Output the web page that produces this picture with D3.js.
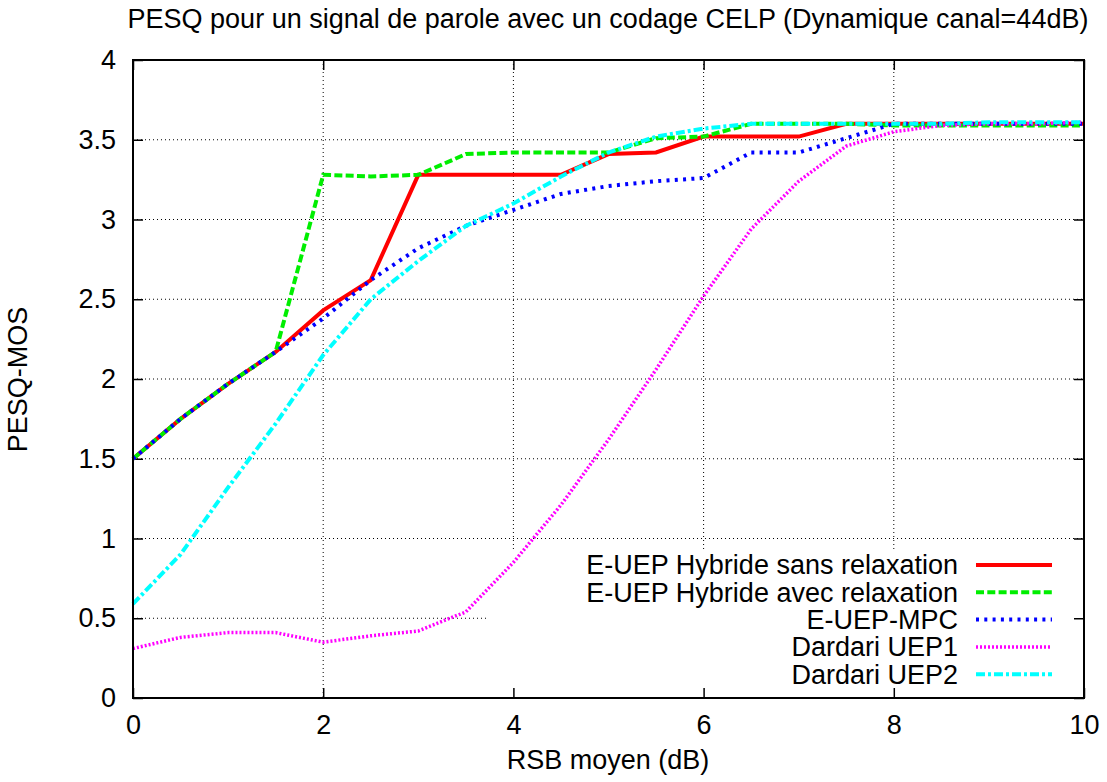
<!DOCTYPE html>
<html>
<head>
<meta charset="utf-8">
<script src="https://cdn.jsdelivr.net/npm/d3@7"></script>
<style>
  body { margin: 0; background: #fff; }
  text { font-family: "Liberation Sans", Arial, sans-serif; }
</style>
</head>
<body>
<svg id="chart" width="1107" height="782"></svg>
<script>
// data
const xs = [0, 0.5, 1, 1.5, 2, 2.5, 3, 3.5, 4, 4.5, 5, 5.5, 6, 6.5, 7, 7.5, 8, 8.5, 9, 9.5, 10];

const sansRelax = [1.5, 1.75, 1.97, 2.17, 2.43, 2.62, 3.28, 3.28, 3.28, 3.28, 3.41, 3.42, 3.52, 3.52, 3.52, 3.6, 3.6, 3.6, 3.6, 3.6, 3.6];
const avecRelax = [1.5, 1.75, 1.97, 2.17, 3.28, 3.27, 3.28, 3.41, 3.42, 3.42, 3.42, 3.51, 3.52, 3.6, 3.6, 3.6, 3.59, 3.59, 3.59, 3.59, 3.59];
const mpc = [1.5, 1.75, 1.97, 2.17, 2.38, 2.62, 2.82, 2.96, 3.06, 3.16, 3.21, 3.24, 3.26, 3.42, 3.42, 3.51, 3.6, 3.6, 3.6, 3.6, 3.6];
const uep1 = [0.31, 0.38, 0.41, 0.41, 0.35, 0.39, 0.42, 0.54, 0.85, 1.21, 1.62, 2.06, 2.52, 2.94, 3.24, 3.46, 3.55, 3.59, 3.6, 3.6, 3.61];
const uep2 = [0.59, 0.9, 1.32, 1.72, 2.15, 2.5, 2.74, 2.96, 3.1, 3.27, 3.42, 3.52, 3.57, 3.6, 3.6, 3.6, 3.6, 3.6, 3.61, 3.61, 3.61];

const seriesNames = ["E-UEP Hybride sans relaxation", "E-UEP Hybride avec relaxation", "E-UEP-MPC", "Dardari UEP1", "Dardari UEP2"];
const seriesColors = ["#ff0000", "#00ee00", "#0000ff", "#ff00ff", "#00ffff"];
const seriesDash = [null, "8,3.3", "3,5.3", "2,2", "9,3,3,3"];

const xTicks = [0, 2, 4, 6, 8, 10];
const yTicks = [0, 0.5, 1, 1.5, 2, 2.5, 3, 3.5, 4];

const titleText = "PESQ pour un signal de parole avec un codage CELP (Dynamique canal=44dB)";
const xLabel = "RSB moyen (dB)";
const yLabel = "PESQ-MOS";

var allSeries = [sansRelax, avecRelax, mpc, uep1, uep2];

const svg = d3.select("#chart");
const fs = 27;

// plot box
const pLeft = 133, pRight = 1084, pTop = 60, pBottom = 698;

const x = d3.scaleLinear().domain([0, 10]).range([pLeft, pRight]);
const y = d3.scaleLinear().domain([0, 4]).range([pBottom, pTop]);

// grid
const grid = svg.append("g").attr("class", "grid");
grid.selectAll("line.gx")
    .data(xTicks.slice(1, -1))
    .enter().append("line")
    .attr("x1", d => x(d)).attr("x2", d => x(d))
    .attr("y1", pTop).attr("y2", pBottom)
    .attr("stroke", "#000").attr("stroke-width", 1)
    .attr("stroke-dasharray", "1,3");
grid.selectAll("line.gy")
    .data(yTicks.slice(1, -1))
    .enter().append("line")
    .attr("y1", d => y(d)).attr("y2", d => y(d))
    .attr("x1", pLeft).attr("x2", pRight)
    .attr("stroke", "#000").attr("stroke-width", 1)
    .attr("stroke-dasharray", "1,3");

// key area is blanked (opaque key)
svg.append("rect")
    .attr("x", 487).attr("y", 550)
    .attr("width", pRight - 487).attr("height", pBottom - 550)
    .attr("fill", "#fff");

// axes with inward ticks
const tickLen = 10;
const axB = svg.append("g").attr("transform", `translate(0,${pBottom})`)
    .call(d3.axisBottom(x).tickValues(xTicks).tickSize(-tickLen).tickPadding(17).tickFormat(d3.format("d")));
const axT = svg.append("g").attr("transform", `translate(0,${pTop})`)
    .call(d3.axisTop(x).tickValues(xTicks).tickSize(-tickLen).tickFormat(""));
const axL = svg.append("g").attr("transform", `translate(${pLeft},0)`)
    .call(d3.axisLeft(y).tickValues(yTicks).tickSize(-tickLen).tickPadding(17).tickFormat(d => d3.format("")(d)));
const axR = svg.append("g").attr("transform", `translate(${pRight},0)`)
    .call(d3.axisRight(y).tickValues(yTicks).tickSize(-tickLen).tickFormat(""));

[axB, axT, axL, axR].forEach(a => {
  a.select(".domain").remove();
  a.selectAll(".tick line").attr("stroke", "#000").attr("stroke-width", 1.5);
  a.selectAll("text").attr("font-size", fs).attr("fill", "#000")
    .style("font-family", "'Liberation Sans', Arial, sans-serif");
});

// lines
const line = d3.line()
    .x((d, i) => x(xs[i]))
    .y(d => y(d));

svg.append("g").attr("class", "series")
    .selectAll("path")
    .data(allSeries)
    .enter().append("path")
    .attr("d", d => line(d))
    .attr("fill", "none")
    .attr("stroke", (d, i) => seriesColors[i])
    .attr("stroke-width", (d, i) => i == 3 ? 3.5 : 4)
    .attr("stroke-dasharray", (d, i) => seriesDash[i])
    .attr("stroke-linejoin", "miter");

// frame
svg.append("rect")
    .attr("x", pLeft).attr("y", pTop)
    .attr("width", pRight - pLeft).attr("height", pBottom - pTop)
    .attr("fill", "none").attr("stroke", "#000").attr("stroke-width", 2);

// legend
const key = svg.append("g").attr("class", "key");
seriesNames.forEach((name, i) => {
  let ky = 565 + i * 27.3;
  key.append("text")
      .attr("x", 958).attr("y", ky)
      .attr("dy", "0.35em")
      .attr("text-anchor", "end")
      .attr("font-size", fs)
      .text(name);
  key.append("line")
      .attr("x1", 976).attr("x2", 1052)
      .attr("y1", ky).attr("y2", ky)
      .attr("stroke", seriesColors[i])
      .attr("stroke-width", i == 3 ? 3.5 : 4)
      .attr("stroke-dasharray", seriesDash[i]);
});

// titles
svg.append("text")
    .attr("x", 608).attr("y", 28)
    .attr("text-anchor", "middle")
    .attr("font-size", fs)
    .text(titleText);
svg.append("text")
    .attr("x", 608).attr("y", 769)
    .attr("text-anchor", "middle")
    .attr("font-size", fs)
    .text(xLabel);
svg.append("text")
    .attr("transform", "translate(27,379.5) rotate(-90)")
    .attr("text-anchor", "middle")
    .attr("font-size", fs)
    .text(yLabel);
</script>
</body>
</html>
